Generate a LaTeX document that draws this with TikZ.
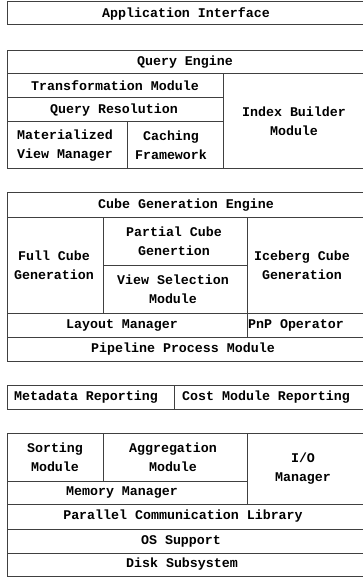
\documentclass[tikz,border=0pt]{standalone}
\usepackage{fontspec}
\setmonofont{Liberation Mono}

\begin{document}
\begin{tikzpicture}[x=1pt, y=-1pt,
  cell/.style={draw=black!75, line width=1pt},
  lbl/.style={font=\ttfamily\bfseries\fontsize{13.3}{19}\selectfont, align=center, inner sep=0pt}]
\useasboundingbox (0,0) rectangle (362,577);
% Cases
\draw[cell] (7,2) rectangle (366,25);
\draw[cell] (7,51) rectangle (366,74);
\draw[cell] (7,74) rectangle (223,98);
\draw[cell] (7,98) rectangle (223,121.5);
\draw[cell] (7,121.5) rectangle (127,169);
\draw[cell] (127,121.5) rectangle (223,169);
\draw[cell] (223,74) rectangle (366,169);
\draw[cell] (7,193) rectangle (366,217);
\draw[cell] (7,217) rectangle (103,313);
\draw[cell] (103,217) rectangle (247,265);
\draw[cell] (103,265) rectangle (247,313);
\draw[cell] (247,217) rectangle (366,313);
\draw[cell] (7,313) rectangle (247,337);
\draw[cell] (247,313) rectangle (366,337);
\draw[cell] (7,337) rectangle (366,361);
\draw[cell] (7,385) rectangle (174,409);
\draw[cell] (174,385) rectangle (366,409);
\draw[cell] (7,433) rectangle (103,481);
\draw[cell] (103,433) rectangle (247,481);
\draw[cell] (247,433) rectangle (366,504);
\draw[cell] (7,481) rectangle (247,504);
\draw[cell] (7,504) rectangle (366,529);
\draw[cell] (7,529) rectangle (366,553);
\draw[cell] (7,553) rectangle (366,576);
% Textes
\node[lbl] (app) at (186,13.5) {Application Interface};
\node[lbl] (qengine) at (185,62.5) {Query Engine};
\node[lbl] (transf) at (115,86) {Transformation Module};
\node[lbl] (qres) at (114,109.8) {Query Resolution};
\node[lbl] (matview) at (65,145.3) {Materialized\\View Manager};
\node[lbl] (caching) at (171,145.3) {Caching\\Framework};
\node[lbl] (index) at (294,121.5) {Index Builder\\Module};
\node[lbl] (cgengine) at (186,205) {Cube Generation Engine};
\node[lbl] (fullcube) at (54,265) {Full Cube\\Generation};
\node[lbl] (partial) at (174,241) {Partial Cube\\Genertion};
\node[lbl] (viewsel) at (173,289) {View Selection\\Module};
\node[lbl] (iceberg) at (302,265) {Iceberg Cube\\Generation};
\node[lbl] (layout) at (122,325) {Layout Manager};
\node[lbl] (pnp) at (296,325) {PnP Operator};
\node[lbl] (pipeline) at (183,349) {Pipeline Process Module};
\node[lbl] (metadata) at (86,397) {Metadata Reporting};
\node[lbl] (cost) at (266,397) {Cost Module Reporting};
\node[lbl] (sorting) at (55,457) {Sorting\\Module};
\node[lbl] (aggreg) at (173,457) {Aggregation\\Module};
\node[lbl] (io) at (303,468.5) {I/O\\Manager};
\node[lbl] (memory) at (122,492.5) {Memory Manager};
\node[lbl] (parallel) at (183,516.5) {Parallel Communication Library};
\node[lbl] (os) at (181,541) {OS Support};
\node[lbl] (disk) at (182,564.5) {Disk Subsystem};
\end{tikzpicture}
\end{document}
